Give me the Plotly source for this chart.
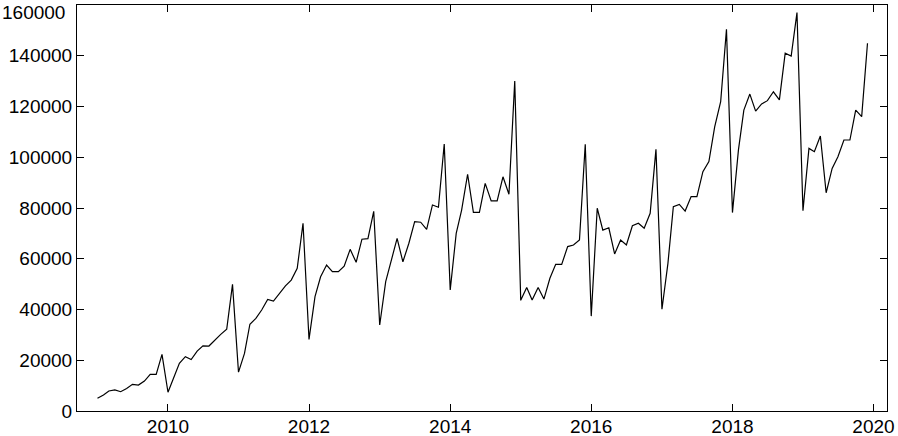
"""월별 시계열 선그래프 (2009-01 ~ 2019-12)."""

import pandas as pd
import plotly.graph_objects as go

months = pd.date_range("2009-01-01", "2019-12-01", freq="MS")

values_2009 = [5000, 6300, 7900, 8300, 7600, 8900, 10500, 10200, 11800, 14400, 14400, 22300]
values_2010 = [7400, 13500, 18800, 21400, 20300, 23600, 25700, 25600, 28000, 30200, 32200, 49900]
values_2011 = [15300, 22700, 34200, 36500, 39800, 44000, 43300, 46400, 49300, 51600, 56200, 74000]
values_2012 = [28200, 45100, 52900, 57500, 54900, 54900, 57100, 63700, 58600, 67700, 67900, 78700]
values_2013 = [33900, 51000, 59500, 68000, 58800, 66100, 74600, 74400, 71600, 81200, 80300, 105200]
values_2014 = [47700, 70000, 79200, 93300, 78300, 78300, 89700, 82800, 82800, 92300, 85400, 130000]
values_2015 = [43600, 48700, 43700, 48700, 44100, 52300, 57800, 57800, 64800, 65400, 67400, 105100]
values_2016 = [37400, 79900, 71300, 72200, 61900, 67400, 65400, 73000, 74000, 72000, 77900, 103100]
values_2017 = [40100, 58200, 80500, 81400, 78800, 84500, 84500, 94300, 98300, 112000, 121900, 150400]
values_2018 = [78200, 102900, 118600, 124900, 118200, 121000, 122300, 125800, 122600, 141000, 139900, 157000]
values_2019 = [78900, 103500, 102200, 108400, 86000, 95600, 100200, 106800, 106800, 118600, 116000, 144900]

values = (
    values_2009 + values_2010 + values_2011 + values_2012 + values_2013 + values_2014
    + values_2015 + values_2016 + values_2017 + values_2018 + values_2019
)

y_ticks = [0, 20000, 40000, 60000, 80000, 100000, 120000, 140000, 160000]
y_top = y_ticks[-1]
# 맨 위 라벨은 잘리지 않도록 주석으로 따로 (원본처럼 살짝 아래로)
y_labels = [str(v) for v in y_ticks[:-1]] + [""]

tick_font = dict(family="Liberation Sans", size=19, color="#000000")

fig = go.Figure()
fig.add_trace(
    go.Scatter(
        x=months, y=values, mode="lines",
        line=dict(color="#000000", width=1.2),
        showlegend=False,
    )
)

axis_style = dict(
    showline=True, linecolor="#000000", linewidth=1, mirror="ticks",
    ticks="inside", ticklen=7, tickwidth=1, tickcolor="#000000",
    showgrid=False, zeroline=False, automargin=False,
    tickfont=tick_font,
)

fig.update_xaxes(
    range=["2008-09-17", "2020-03-11"],
    tick0="2010-01-01", dtick="M24", tickformat="%Y",
    ticklabeloverflow="allow", ticklabelstandoff=-2,
    **axis_style,
)
fig.update_yaxes(
    range=[0, y_top], tickvals=y_ticks, ticktext=y_labels,
    **axis_style,
)
fig.add_annotation(
    x=0, xref="paper", y=y_top, yref="y", text=str(y_top),
    xanchor="right", yanchor="top", xshift=-10, yshift=5,
    showarrow=False, font=tick_font,
)

fig.update_layout(
    width=898, height=436,
    margin=dict(l=77, r=11, t=5, b=25),
    plot_bgcolor="#ffffff", paper_bgcolor="#ffffff",
)

# 페이지 기본 여백(8px) 제거, 모드바 숨김
fig.write_html(
    "out.html",
    config={"displayModeBar": False},
    post_script="document.body.style.margin='0';",
)
